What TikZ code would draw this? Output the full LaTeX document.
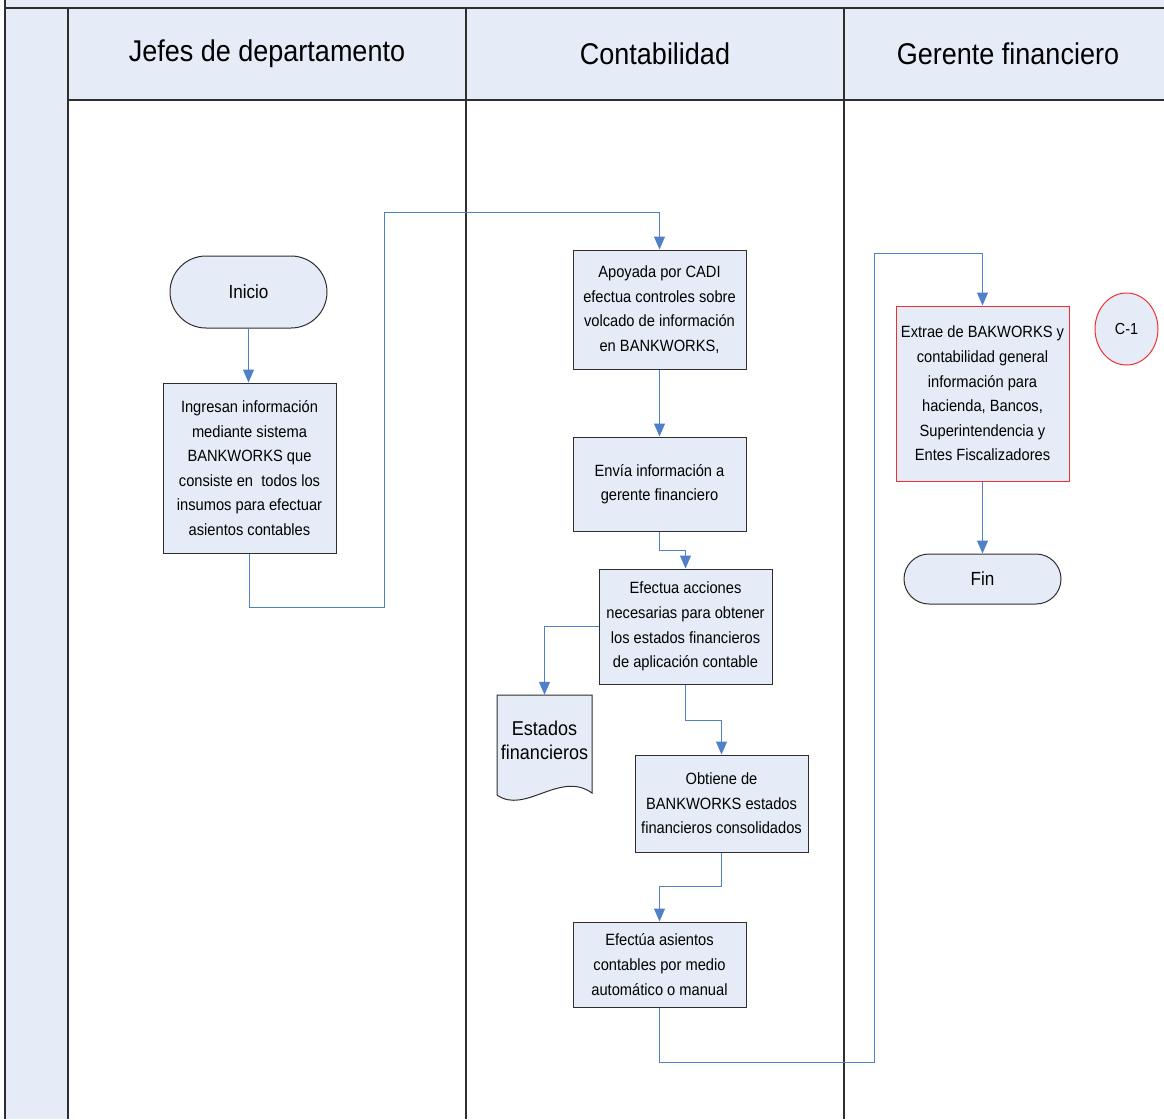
\documentclass[tikz,border=0pt]{standalone}
\usepackage{fontspec}
\setmainfont[FakeStretch=0.9]{Liberation Sans}
\usetikzlibrary{arrows.meta,positioning,calc,shapes.geometric}
\definecolor{lanefill}{HTML}{E6ECF7}
\definecolor{laneline}{HTML}{2E2E2E}
\definecolor{flowblue}{HTML}{4F80C8}
\definecolor{alertred}{HTML}{F03030}

\begin{document}
\begin{tikzpicture}[
  x=1pt, y=-1pt,
  lane/.style={draw=laneline, line width=1.4pt},
  box/.style={draw=laneline, fill=lanefill, line width=1pt, align=center,
    minimum width=173pt, inner sep=2pt, font=\fontsize{16.3}{24.6}\selectfont},
  term/.style={draw=laneline, fill=lanefill, line width=1pt, align=center,
    minimum width=157pt, font=\fontsize{19}{23}\selectfont},
  head/.style={font=\fontsize{30}{35}\selectfont},
  conn/.style={draw=flowblue, line width=1pt, -{Triangle[width=11pt,length=13pt]}}
]
\useasboundingbox (0,0) rectangle (1164,1119);
% swimlane frame
\fill[lanefill] (5,0) rectangle (1164,8);
\fill[lanefill] (5,8) rectangle (68,1119);
\fill[lanefill] (68,8) rectangle (1164,100);
\draw[lane] (5,0) -- (5,1119);
\draw[lane] (5,8) -- (1164,8);
\draw[lane] (68,100) -- (1164,100);
\foreach \xx in {68,466,844} {
  \draw[lane] (\xx,8) -- (\xx,1119);
}
\node[head] (hjefes) at (267,54) {Jefes de departamento};
\node[head] (hconta) at (655,54) {Contabilidad};
\node[head] (hgerente) at (1008,54) {Gerente financiero};

% Jefes de departamento
\node[term, minimum height=72pt, rounded corners=36pt] (inicio) at (248.5,292) {Inicio};
\node[box, minimum height=170pt] (ingresan) at (249.5,468) {Ingresan información\\mediante sistema\\BANKWORKS que\\consiste en~ todos los\\insumos para efectuar\\asientos contables};

% Contabilidad
\node[box, minimum height=119pt] (apoyada) at (659.5,309.5) {Apoyada por CADI\\efectua controles sobre\\volcado de información\\en BANKWORKS,};
\node[box, minimum height=94pt] (envia) at (659.5,484) {Envía información a\\gerente financiero};
\node[box, minimum height=115pt] (efectua) at (685.5,626.5) {Efectua acciones\\necesarias para obtener\\los estados financieros\\de aplicación contable};
\node[box, minimum height=97pt] (obtiene) at (721.5,803.5) {Obtiene de\\BANKWORKS estados\\financieros consolidados};
\node[box, minimum height=85pt] (asientos) at (659.5,964.5) {Efectúa asientos\\contables por medio\\automático o manual};
% document shape
\draw[draw=laneline, fill=lanefill, line width=1pt]
  (497,695) -- (592,695) -- (592,793)
  .. controls (560,770) and (525,815) .. (497,795) -- cycle;
\node[align=center, minimum width=95pt, minimum height=90pt, inner sep=0pt,
  font=\fontsize{20}{24}\selectfont] (estados) at (544.5,740) {Estados\\financieros};

% Gerente financiero
\node[box, draw=alertred, minimum height=175pt] (extrae) at (982.5,393.5) {Extrae de BAKWORKS y\\contabilidad general\\información para\\hacienda, Bancos,\\Superintendencia y\\Entes Fiscalizadores};
\node[term, minimum height=50pt, rounded corners=25pt] (fin) at (982.5,579) {Fin};
\node[draw=alertred, fill=lanefill, line width=1pt, ellipse, minimum width=63pt,
  minimum height=72pt, inner sep=0pt, font=\fontsize{16}{19}\selectfont] (cuno) at (1126.5,329) {C-1};

% connectors
\coordinate (r1) at (384,607);
\coordinate (r2) at (659.5,212);
\coordinate (r3) at (874,1062);
\coordinate (r4) at (874,253);
\draw[conn] (inicio.south) -- (inicio.south |- ingresan.north);
\draw[conn] (ingresan.south) |- (r1) |- (r2) -- (apoyada.north);
\draw[conn] (apoyada) -- (envia);
\draw[conn] (envia.south) -- ++(0,19) -| (efectua.north);
\draw[conn] (efectua.west) -| (estados.north);
\draw[conn] (efectua.south) -- ++(0,36) -| (obtiene.north);
\draw[conn] (obtiene.south) -- ++(0,34) -| (asientos.north);
\draw[conn] (asientos.south) |- (r3) -- (r4) -| (extrae.north);
\draw[conn] (extrae) -- (fin);
\end{tikzpicture}
\end{document}
